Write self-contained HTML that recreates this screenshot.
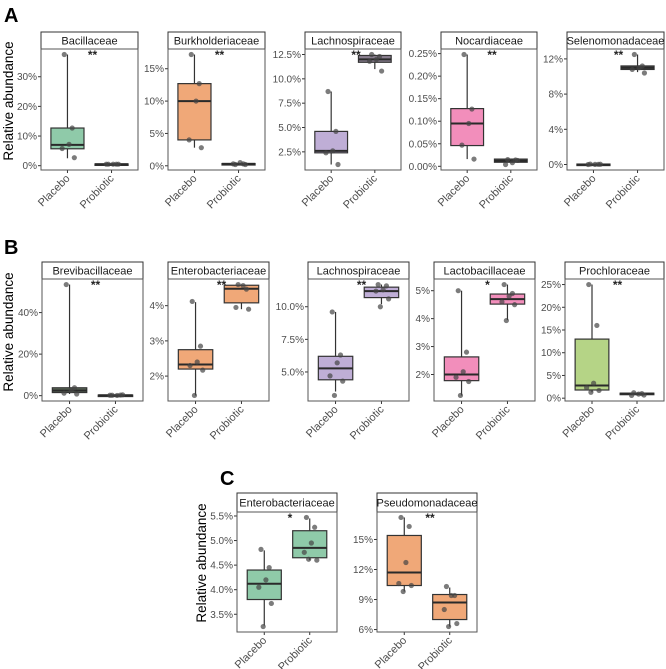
<!DOCTYPE html>
<html><head><meta charset="utf-8">
<style>
html,body{margin:0;padding:0;background:#fff;}
svg{display:block;font-family:"Liberation Sans",Arial,sans-serif;}
</style></head>
<body>
<svg id="fig" width="666" height="669" viewBox="0 0 666 669" xmlns="http://www.w3.org/2000/svg">
<text x="4" y="22" font-size="20" font-weight="bold">A</text>
<text x="4" y="254" font-size="20" font-weight="bold">B</text>
<text x="220" y="485" font-size="20" font-weight="bold">C</text>
<text transform="translate(13,101) rotate(-90)" text-anchor="middle" font-size="13.5">Relative abundance</text>
<text transform="translate(13,332) rotate(-90)" text-anchor="middle" font-size="13.5">Relative abundance</text>
<text transform="translate(206,563) rotate(-90)" text-anchor="middle" font-size="13.5">Relative abundance</text>
</svg>
<script>
// ---- data (values in %) ----
const groups = ["Placebo","Probiotic"];
const panelTitles = ["Bacillaceae","Burkholderiaceae","Lachnospiraceae","Nocardiaceae","Selenomonadaceae",
 "Brevibacillaceae","Enterobacteriaceae","Lachnospiraceae","Lactobacillaceae","Prochloraceae",
 "Enterobacteriaceae","Pseudomonadaceae"];
const sigLabels = ["**","**","**","**","**","**","**","**","*","**","*","**"];
// box stats: [whiskerLow, q1, median, q3, whiskerHigh]
const placeboStats = [[2.5,5.7,7,12.7,37.5],[2.8,4,10,12.7,17.2],[1.2,2.4,2.6,4.6,8.7],[0.016,0.046,0.095,0.128,0.248],[0,0,0,0.05,0.1],
 [0.8,1.5,2.5,3.8,53.5],[1.45,2.2,2.33,2.75,4.1],[3.5,4.4,5.28,6.2,9.6],[1.25,1.78,2.0,2.63,5.0],[1.3,1.8,2.8,13,25],
 [3.27,3.8,4.12,4.4,4.8],[9.8,10.4,11.7,15.4,17.2]];
const probioticStats = [[0.4,0.4,0.5,0.6,0.6],[0.2,0.25,0.3,0.35,0.5],[11.0,11.7,12.0,12.4,12.5],[0.009,0.009,0.012,0.016,0.016],[10.5,10.8,11.0,11.2,12.5],
 [0.1,0.1,0.2,0.3,0.4],[3.9,4.08,4.48,4.58,4.6],[10.2,10.7,11.2,11.5,11.7],[3.95,4.52,4.7,4.88,5.22],[0.6,0.8,1.0,1.1,1.2],
 [4.6,4.65,4.85,5.2,5.45],[6.3,7.0,8.7,9.5,10.2]];
const placeboPoints = [[37.5,12.7,7.2,5.8,2.7],[17.2,12.7,10,4,2.8],[8.7,4.6,2.6,2.4,1.2],[0.248,0.127,0.095,0.047,0.016],[0.05,0.02,0.01,0.0,0.03],
 [53.5,3.8,2.5,1.2,0.8],[4.12,2.85,2.4,2.3,2.17,1.45],[9.6,6.3,5.7,4.7,4.3,3.2],[5.0,2.8,2.1,1.9,1.75,1.25],[25,16,3.3,2.3,1.7,1.3],
 [4.82,4.45,4.2,4.05,3.72,3.25],[17.2,16.3,12.7,10.6,10.4,9.8]];
const probioticPoints = [[0.5,0.5,0.5,0.5,0.5],[0.2,0.3,0.5,0.3,0.2],[12.5,12.3,12.0,11.8,10.8],[0.015,0.014,0.008,0.004,0.013],[12.5,11.2,11.0,10.8,10.4],
 [0.2,0.3,0.1,0.2,0.4],[4.6,4.47,4.57,3.95,3.9],[11.7,11.6,11.3,11.2,10.6,10.0],[5.22,4.9,4.8,4.6,4.5,3.93],[1.2,1.0,0.9,0.6,0.7],
 [5.47,5.27,4.95,4.76,4.6,4.62],[10.3,9.4,9.4,8.0,6.6,6.3]];
const tickValues = [[0,10,20,30],[0,5,10,15],[2.5,5,7.5,10,12.5],[0,0.05,0.1,0.15,0.2,0.25],[0,4,8,12],
 [0,20,40],[2,3,4],[5,7.5,10],[2,3,4,5],[0,5,10,15,20,25],
 [3.5,4,4.5,5,5.5],[6,9,12,15]];
const tickLabels = [["0%","10%","20%","30%"],["0%","5%","10%","15%"],["2.5%","5.0%","7.5%","10.0%","12.5%"],["0.00%","0.05%","0.10%","0.15%","0.20%","0.25%"],["0%","4%","8%","12%"],
 ["0%","20%","40%"],["2%","3%","4%"],["5.0%","7.5%","10.0%"],["2%","3%","4%","5%"],["0%","5%","10%","15%","20%","25%"],
 ["3.5%","4.0%","4.5%","5.0%","5.5%"],["6%","9%","12%","15%"]];
const placeboColors = ["#8fcaa9","#f0a878","#bfaed6","#f28ebb","#8a8a8a","#5d6b5a","#f0a878","#bfaed6","#f28ebb","#b5d486","#8fcaa9","#f0a878"];
const probioticColors = ["#555","#555","#8a7f90","#555","#555","#555","#f0a878","#bfaed6","#f28ebb","#555","#8fcaa9","#f0a878"];
// ---- layout ----
const frames = [[41,138,32,49,170],[168,265,32,49,170],[305,401,32,49,170],[441,537,32,49,170],[567,664,32,49,170],
 [42,143,262,279,401],[168,269,262,279,401],[308,409,262,279,401],[434,535,262,279,401],[565,664,262,279,401],
 [237,337,493,512,632],[377,477,493,512,632]];
const jit = [-0.06,0.09,0.03,-0.1,0.13,-0.02];
const NS="http://www.w3.org/2000/svg";
const svg=document.getElementById('fig');
function mk(tag,attrs,parent){const e=document.createElementNS(NS,tag);for(const k in attrs)e.setAttribute(k,attrs[k]);(parent||svg).appendChild(e);return e;}
panelTitles.forEach((title,i)=>{
  const [x0,x1,sy,y0,y1]=frames[i];
  const g=mk('g',{});
  
  
  const all=placeboStats[i].concat(probioticStats[i],placeboPoints[i],probioticPoints[i]);
  let mn=Math.min(...all),mx=Math.max(...all);const ex=(mx-mn)*0.05;mn-=ex;mx+=ex;
  const ys=v=>y1-(v-mn)/(mx-mn)*(y1-y0);
  const w=x1-x0;const xs=k=>x0+w*(0.6+k*1.0)/2.2;const bw=w*0.75/2.2;
  const st=mk('rect',{x:x0,y:sy,width:w,height:y0-sy,fill:'#fff',stroke:'#333','stroke-width':1},g);
  
  
  const stt=mk('text',{x:(x0+x1)/2,y:(sy+y0)/2+4,'text-anchor':'middle','font-size':11,fill:'#1a1a1a'},g);
  stt.textContent=title;
  
  
  tickValues[i].forEach((v,t)=>{
    const y=ys(v);
    mk('line',{x1:x0-3,x2:x0,y1:y,y2:y,stroke:'#333'},g);
    const tl=mk('text',{x:x0-4,y:y+3.5,'text-anchor':'end','font-size':10,fill:'#4d4d4d'},g);
    tl.textContent=tickLabels[i][t];
    
    
  });
  [placeboStats[i],probioticStats[i]].forEach((s,k)=>{
    const cx=xs(k);const col=k==0?placeboColors[i]:probioticColors[i];
    mk('line',{x1:cx,x2:cx,y1:ys(s[0]),y2:ys(s[4]),stroke:'#333','stroke-width':1.2},g);
    const b=mk('rect',{x:cx-bw/2,y:ys(s[3]),width:bw,height:Math.max(ys(s[1])-ys(s[3]),1.5),fill:col,stroke:'#333','stroke-width':1.2},g);
    
    
    mk('line',{x1:cx-bw/2,x2:cx+bw/2,y1:ys(s[2]),y2:ys(s[2]),stroke:'#2a2a2a','stroke-width':2},g);
    mk('line',{x1:cx,x2:cx,y1:y1,y2:y1+3,stroke:'#333'},g);
    const xl=mk('text',{transform:`translate(${cx+3},${y1+9}) rotate(-45)`,'text-anchor':'end','font-size':11,fill:'#4d4d4d'},g);
    xl.textContent=groups[k];
    
    
  });
  [placeboPoints[i],probioticPoints[i]].forEach((pts,k)=>{
    pts.forEach((v,j)=>{
      const c=mk('circle',{cx:xs(k)+jit[j%6]*w/2.2*1.2,cy:ys(v),r:2.6,fill:'#444','fill-opacity':0.7},g);
      
      
    });
  });
  mk('rect',{x:x0,y:y0,width:w,height:y1-y0,fill:'none',stroke:'#555','stroke-width':1},g);
  const sg=mk('text',{x:(x0+x1)/2+3,y:y0+10,'text-anchor':'middle','font-size':12,'font-weight':'bold',fill:'#222'},g);
  sg.textContent=sigLabels[i];
  
  
});
</script>
</body></html>
